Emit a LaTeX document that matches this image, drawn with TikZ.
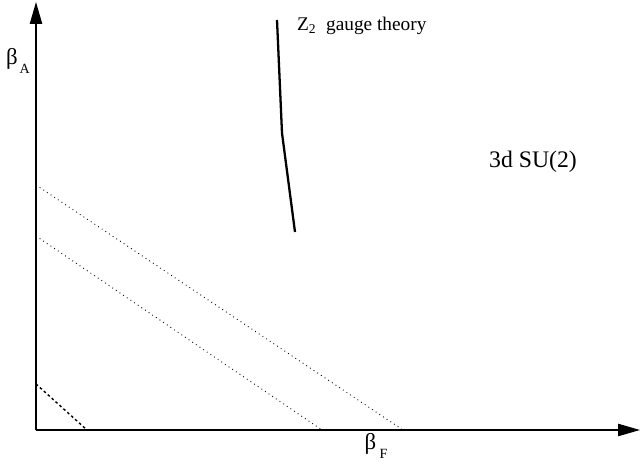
\documentclass[tikz,border=0pt]{standalone}
\usepackage{fontspec}
\setmainfont{Liberation Serif}
\usetikzlibrary{arrows.meta}
\begin{document}
\begin{tikzpicture}[x=0.02cm,y=-0.02cm,every node/.style={inner sep=0pt,outer sep=0pt},
  axis/.style={line width=0.8pt,-{Triangle[length=12.5pt,width=7pt]}},
  boundary/.style={dotted,line width=0.5pt},
  critline/.style={line width=1.3pt}]
\useasboundingbox (0,0) rectangle (640,466);
% axes
\coordinate (O) at (36,430);
\coordinate (ytip) at (36,2);
\coordinate (xtip) at (640,430);
\draw[axis] (O) -- (ytip);
\draw[axis] (O) -- (xtip);
\node (betaA) at (18,61) {\fontsize{13}{15}\selectfont β\kern1pt\raisebox{-0.9ex}{\fontsize{8}{9}\selectfont A}};
\node (betaF) at (376,446) {\fontsize{13}{15}\selectfont β\kern2pt\raisebox{-0.9ex}{\fontsize{8}{9}\selectfont F}};
% lines of constant beta
\coordinate (a1) at (36,185);
\coordinate (a2) at (403,430);
\coordinate (b1) at (36,236);
\coordinate (b2) at (322,430);
\coordinate (c1) at (36,384);
\coordinate (c2) at (87,430);
\draw[boundary] (a1) -- (a2);
\draw[boundary] (b1) -- (b2);
\draw[line width=0.8pt,dash pattern=on 1.5pt off 1.5pt] (c1) -- (c2);
% Z2 line
\coordinate (z1) at (277,20);
\coordinate (z2) at (282,133);
\coordinate (z3) at (295,232);
\draw[critline] (z1) -- (z2) -- (z3);
\node[anchor=west] (ztwo) at (297,26) {\fontsize{11}{13}\selectfont Z\textsubscript{2}\ \ gauge theory};
\node (sutwo) at (533,162) {\fontsize{13.5}{16}\selectfont 3d SU(2)};
\end{tikzpicture}
\end{document}
